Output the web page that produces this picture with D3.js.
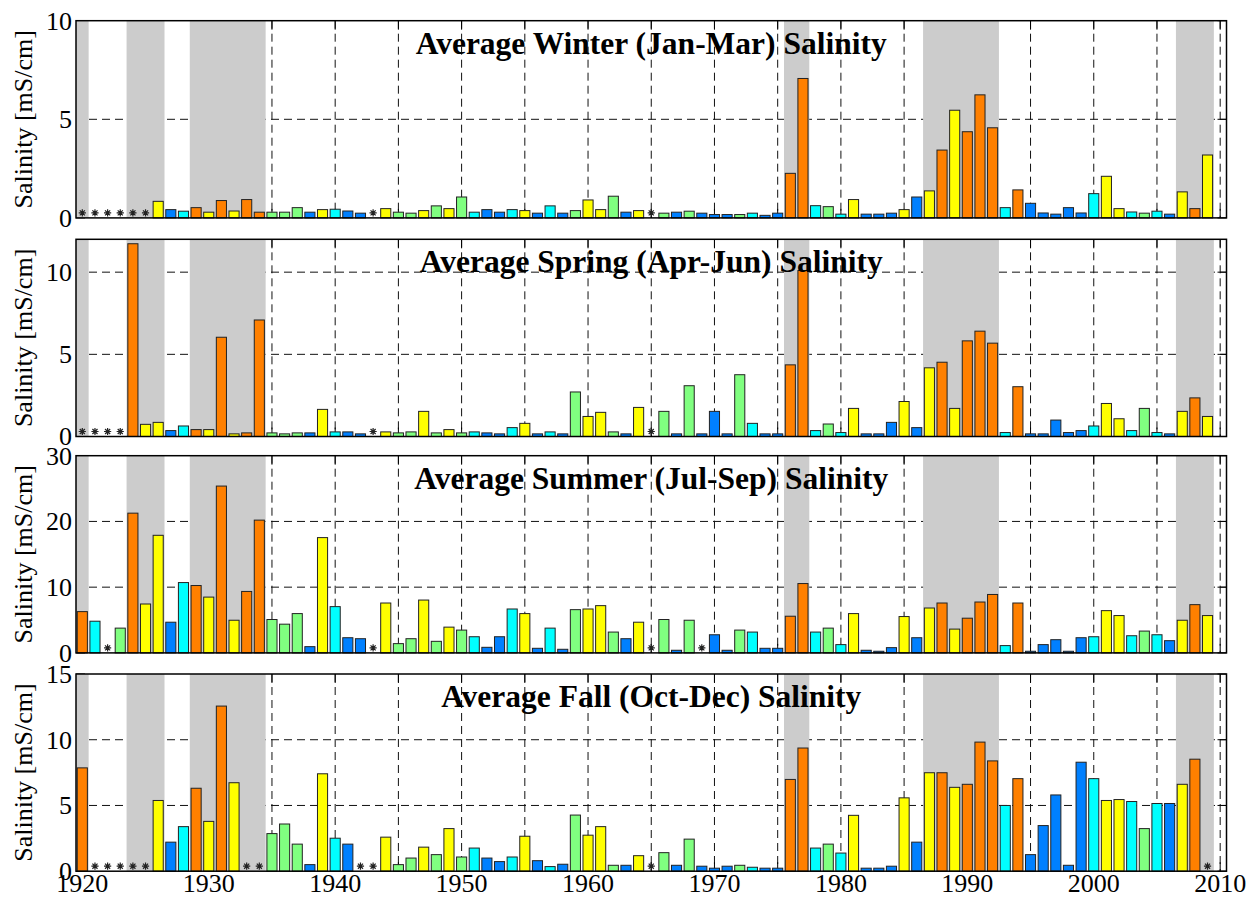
<!DOCTYPE html>
<html>
<head>
<meta charset="utf-8">
<script src="https://cdn.jsdelivr.net/npm/d3@7"></script>
<style>
  html, body { margin: 0; padding: 0; background: #fff; }
</style>
</head>
<body>
<div id="chart"></div>
<script>
(function () {
  'use strict';

  var years = [
    1920, 1921, 1922, 1923, 1924, 1925, 1926, 1927, 1928, 1929,
    1930, 1931, 1932, 1933, 1934, 1935, 1936, 1937, 1938, 1939,
    1940, 1941, 1942, 1943, 1944, 1945, 1946, 1947, 1948, 1949,
    1950, 1951, 1952, 1953, 1954, 1955, 1956, 1957, 1958, 1959,
    1960, 1961, 1962, 1963, 1964, 1965, 1966, 1967, 1968, 1969,
    1970, 1971, 1972, 1973, 1974, 1975, 1976, 1977, 1978, 1979,
    1980, 1981, 1982, 1983, 1984, 1985, 1986, 1987, 1988, 1989,
    1990, 1991, 1992, 1993, 1994, 1995, 1996, 1997, 1998, 1999,
    2000, 2001, 2002, 2003, 2004, 2005, 2006, 2007, 2008, 2009
  ];

  // water year type: W wet, AN above normal, BN below normal, D dry, C critical
  var yearType = [
    'C',  'AN', 'AN', 'BN', 'C',  'D',  'D',  'W',  'AN', 'C',
    'D',  'C',  'D',  'C',  'C',  'BN', 'BN', 'BN', 'W',  'D',
    'AN', 'W',  'W',  'W',  'D',  'BN', 'BN', 'D',  'BN', 'D',
    'BN', 'AN', 'W',  'W',  'AN', 'D',  'W',  'AN', 'W',  'BN',
    'D',  'D',  'BN', 'W',  'D',  'W',  'BN', 'W',  'BN', 'W',
    'W',  'W',  'BN', 'AN', 'W',  'W',  'C',  'C',  'AN', 'BN',
    'AN', 'D',  'W',  'W',  'W',  'D',  'W',  'D',  'C',  'D',
    'C',  'C',  'C',  'AN', 'C',  'W',  'W',  'W',  'W',  'W',
    'AN', 'D',  'D',  'AN', 'BN', 'AN', 'W',  'D',  'C',  'D'
  ];

  var winter = [
    null, null, null, null, null, null, 0.84, 0.42, 0.34, 0.52,
    0.29, 0.88, 0.35, 0.93, 0.29, 0.29, 0.29, 0.52, 0.29, 0.42,
    0.44, 0.35, 0.24, null, 0.47, 0.29, 0.24, 0.37, 0.61, 0.47,
    1.06, 0.29, 0.42, 0.29, 0.42, 0.37, 0.24, 0.61, 0.24, 0.37,
    0.91, 0.42, 1.10, 0.29, 0.37, null, 0.24, 0.29, 0.34, 0.24,
    0.17, 0.17, 0.17, 0.24, 0.13, 0.24, 2.26, 7.07, 0.62, 0.57,
    0.19, 0.93, 0.19, 0.19, 0.24, 0.42, 1.06, 1.37, 3.44, 5.46,
    4.37, 6.24, 4.57, 0.52, 1.42, 0.74, 0.25, 0.19, 0.52, 0.25,
    1.23, 2.11, 0.47, 0.30, 0.24, 0.34, 0.19, 1.32, 0.47, 3.19
  ];

  var spring = [
    null, null, null, null, 11.73, 0.74, 0.86, 0.36, 0.64, 0.42,
    0.42, 6.04, 0.16, 0.22, 7.09, 0.22, 0.16, 0.22, 0.22, 1.65,
    0.28, 0.28, 0.16, null, 0.28, 0.22, 0.28, 1.53, 0.22, 0.42,
    0.22, 0.28, 0.22, 0.16, 0.54, 0.80, 0.16, 0.28, 0.16, 2.71,
    1.22, 1.47, 0.28, 0.16, 1.77, null, 1.53, 0.16, 3.09, 0.16,
    1.53, 0.16, 3.76, 0.80, 0.16, 0.16, 4.36, 10.10, 0.36, 0.76,
    0.24, 1.71, 0.16, 0.16, 0.86, 2.13, 0.54, 4.18, 4.52, 1.71,
    5.82, 6.41, 5.68, 0.24, 3.03, 0.16, 0.16, 1.00, 0.24, 0.36,
    0.64, 2.01, 1.08, 0.36, 1.71, 0.24, 0.16, 1.53, 2.35, 1.22
  ];

  var summer = [
    6.28, 4.82, null, 3.77, 21.26, 7.44, 17.89, 4.67, 10.70, 10.25,
    8.49, 25.38, 4.97, 9.35, 20.20, 5.08, 4.37, 5.98, 0.95, 17.54,
    7.04, 2.31, 2.16, null, 7.59, 1.41, 2.16, 8.04, 1.76, 3.92,
    3.47, 2.46, 0.85, 2.46, 6.68, 5.98, 0.70, 3.77, 0.55, 6.58,
    6.68, 7.19, 3.17, 2.16, 4.67, null, 5.08, 0.40, 4.97, null,
    2.76, 0.40, 3.47, 3.17, 0.70, 0.70, 5.58, 10.55, 3.17, 3.77,
    1.26, 5.98, 0.40, 0.25, 0.80, 5.53, 2.31, 6.83, 7.59, 3.62,
    5.28, 7.74, 8.89, 1.11, 7.59, 0.25, 1.26, 2.01, 0.25, 2.31,
    2.46, 6.43, 5.68, 2.61, 3.32, 2.76, 1.86, 4.97, 7.34, 5.68
  ];

  var fall = [
    7.86, null, null, null, null, null, 5.38, 2.21, 3.39, 6.31,
    3.79, 12.56, 6.73, null, null, 2.86, 3.59, 2.06, 0.50, 7.41,
    2.51, 2.06, null, null, 2.59, 0.50, 1.00, 1.83, 1.26, 3.24,
    1.08, 1.76, 1.00, 0.73, 1.08, 2.66, 0.80, 0.35, 0.53, 4.27,
    2.74, 3.39, 0.45, 0.45, 1.18, null, 1.41, 0.45, 2.44, 0.38,
    0.23, 0.38, 0.45, 0.30, 0.23, 0.23, 6.98, 9.37, 1.76, 2.06,
    1.38, 4.25, 0.23, 0.23, 0.38, 5.58, 2.21, 7.49, 7.49, 6.38,
    6.61, 9.82, 8.39, 5.00, 7.04, 1.26, 3.47, 5.80, 0.45, 8.29,
    7.04, 5.38, 5.45, 5.30, 3.24, 5.15, 5.15, 6.61, 8.52, null
  ];

  // drought periods (first year, last year)
  var droughts = [[1920, 1920], [1924, 1926], [1929, 1934], [1976, 1977], [1987, 1992], [2007, 2009]];

  var seasonTitles = [
    'Average Winter (Jan-Mar) Salinity',
    'Average Spring (Apr-Jun) Salinity',
    'Average Summer (Jul-Sep) Salinity',
    'Average Fall (Oct-Dec) Salinity'
  ];
  var seasonMax = [10, 12, 30, 15];
  var seasonTicks = [[0, 5, 10], [0, 5, 10], [0, 10, 20, 30], [0, 5, 10, 15]];
  var gridYears = [1920, 1925, 1930, 1935, 1940, 1945, 1950, 1955, 1960, 1965,
                   1970, 1975, 1980, 1985, 1990, 1995, 2000, 2005, 2010];
  var labelYears = [1920, 1930, 1940, 1950, 1960, 1970, 1980, 1990, 2000, 2010];
  var yLabel = 'Salinity [mS/cm]';

  var typeColor = { W: '#0080ff', AN: '#00ffff', BN: '#80ff80', D: '#ffff00', C: '#ff8000' };
  var series = [winter, spring, summer, fall];

  var FONT = '"Liberation Serif", "Times New Roman", Times, "DejaVu Serif", serif';
  var width = 1259, height = 900;
  var left = 76, right = 1226.5;
  var panelTops = [20.7, 239.3, 455.7, 674];
  var panelH = 197.2;
  var tickLen = 9;

  var svg = d3.select('#chart').append('svg')
    .attr('width', width).attr('height', height)
    .attr('font-family', FONT).style('font-family', FONT);
  var x = d3.scaleLinear().domain([1919.5, 2010.5]).range([left, right]);
  var barW = x(1920.4) - x(1919.6);

  function asteriskPath(r) {
    var d = r * Math.SQRT1_2;
    return 'M' + (-r) + ',0L' + r + ',0M0,' + (-r) + 'L0,' + r +
      'M' + (-d) + ',' + (-d) + 'L' + d + ',' + d + 'M' + (-d) + ',' + d + 'L' + d + ',' + (-d);
  }

  series.forEach(function (vals, i) {
    var top = panelTops[i], bottom = top + panelH;
    var y = d3.scaleLinear().domain([0, seasonMax[i]]).range([bottom, top]);
    var g = svg.append('g');
    var clipId = 'clip' + i;
    svg.append('clipPath').attr('id', clipId).append('rect')
      .attr('x', left).attr('y', top).attr('width', right - left).attr('height', panelH);

    // grid (drawn under everything, like MATLAB layer bottom)
    var grid = g.append('g').attr('stroke', '#111').attr('stroke-width', 1).attr('stroke-dasharray', '8,5');
    grid.selectAll('line.v').data(gridYears).enter().append('line')
      .attr('x1', function (d) { return x(d); }).attr('x2', function (d) { return x(d); })
      .attr('y1', top).attr('y2', bottom);
    grid.selectAll('line.h').data(seasonTicks[i].filter(function (t) { return t > 0 && t < seasonMax[i]; })).enter().append('line')
      .attr('x1', left).attr('x2', right)
      .attr('y1', function (d) { return y(d); }).attr('y2', function (d) { return y(d); });

    // inward ticks
    var ticks = g.append('g').attr('stroke', '#000').attr('stroke-width', 1);
    seasonTicks[i].forEach(function (t) {
      ticks.append('line').attr('x1', left).attr('x2', left + tickLen).attr('y1', y(t)).attr('y2', y(t));
      ticks.append('line').attr('x1', right).attr('x2', right - tickLen).attr('y1', y(t)).attr('y2', y(t));
    });
    gridYears.forEach(function (yr) {
      ticks.append('line').attr('x1', x(yr)).attr('x2', x(yr)).attr('y1', bottom).attr('y2', bottom - tickLen);
      ticks.append('line').attr('x1', x(yr)).attr('x2', x(yr)).attr('y1', top).attr('y2', top + tickLen);
    });

    // drought shading
    g.append('g').attr('clip-path', 'url(#' + clipId + ')').selectAll('rect').data(droughts).enter().append('rect')
      .attr('x', function (d) { return x(d[0] - 0.5); })
      .attr('width', function (d) { return x(d[1] + 0.5) - x(d[0] - 0.5); })
      .attr('y', top).attr('height', panelH)
      .attr('fill', '#cccccc');

    // bars
    var data = years.map(function (yr, k) { return { year: yr, v: vals[k], type: yearType[k] }; });
    g.append('g').selectAll('rect').data(data.filter(function (d) { return d.v != null; })).enter().append('rect')
      .attr('x', function (d) { return x(d.year) - barW / 2; })
      .attr('width', barW)
      .attr('y', function (d) { return y(d.v); })
      .attr('height', function (d) { return y(0) - y(d.v); })
      .attr('fill', function (d) { return typeColor[d.type]; })
      .attr('stroke', '#222').attr('stroke-width', 1);

    // missing data markers
    g.append('g').selectAll('path').data(data.filter(function (d) { return d.v == null; })).enter().append('path')
      .attr('transform', function (d) { return 'translate(' + x(d.year) + ',' + (y(0) - 5) + ')'; })
      .attr('d', asteriskPath(3.6))
      .attr('stroke', '#222').attr('stroke-width', 1.2).attr('fill', 'none');

    // box
    g.append('rect').attr('x', left).attr('y', top).attr('width', right - left).attr('height', panelH)
      .attr('fill', 'none').attr('stroke', '#000').attr('stroke-width', 1.5);

    // title
    g.append('text').attr('x', (left + right) / 2).attr('y', top + 33)
      .attr('text-anchor', 'middle').attr('font-weight', 'bold').attr('font-size', 31.5)
      .attr('font-family', FONT).attr('fill', '#000').text(seasonTitles[i]);

    // y tick labels
    g.append('g').selectAll('text').data(seasonTicks[i]).enter().append('text')
      .attr('x', left - 4).attr('y', function (d) { return y(d); }).attr('dy', '0.34em')
      .attr('text-anchor', 'end').attr('font-size', 26).attr('font-family', FONT).attr('fill', '#000')
      .text(function (d) { return d; });

    // y label
    g.append('text').attr('transform', 'translate(32,' + (top + panelH / 2) + ') rotate(-90)')
      .attr('text-anchor', 'middle').attr('font-size', 26).attr('font-family', FONT)
      .attr('fill', '#000').text(yLabel);

    if (i === series.length - 1) {
      g.append('g').selectAll('text').data(labelYears).enter().append('text')
        .attr('x', function (d) { return x(d); }).attr('y', bottom + 21)
        .attr('text-anchor', 'middle').attr('font-size', 26).attr('font-family', FONT).attr('fill', '#000')
        .text(function (d) { return d; });
    }
  });
})();
</script>
</body>
</html>
